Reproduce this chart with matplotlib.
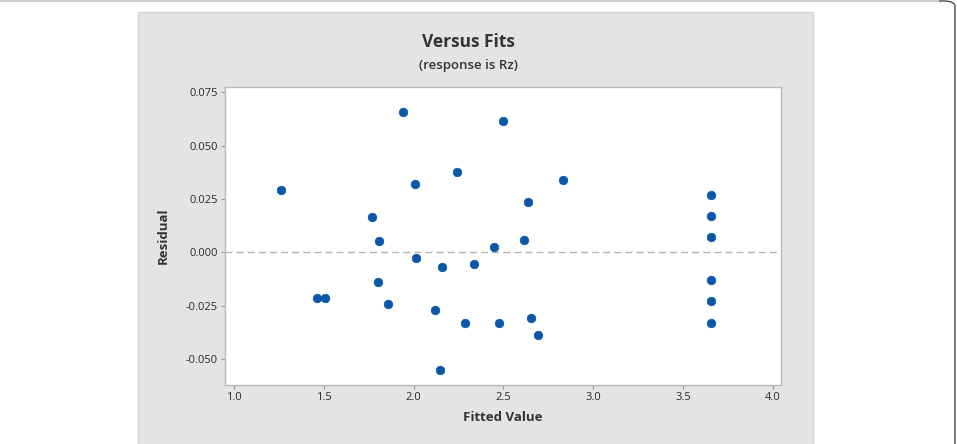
import matplotlib.pyplot as plt
from matplotlib.patches import Rectangle, FancyBboxPatch

plt.rcParams['font.family'] = ['Open Sans', 'DejaVu Sans']

# residuals versus fitted values
fitted = [1.262, 1.464, 1.505, 1.769, 1.804, 1.810, 1.858, 1.943, 2.010, 2.014,
          2.120, 2.148, 2.159, 2.244, 2.285, 2.337, 2.448, 2.476, 2.500, 2.612,
          2.638, 2.651, 2.692, 2.829, 3.656, 3.656, 3.656, 3.656, 3.656, 3.656]
residual = [0.0291, -0.0212, -0.0212, 0.0164, -0.0137, 0.0052, -0.0244, 0.0658, 0.0322, -0.0026,
            -0.0272, -0.0551, -0.0069, 0.0377, -0.0330, -0.0053, 0.0027, -0.0330, 0.0614, 0.0058,
            0.0238, -0.0309, -0.0387, 0.0339, 0.0269, 0.0169, 0.0074, -0.0128, -0.0228, -0.0330]

x_ticks = [1.0, 1.5, 2.0, 2.5, 3.0, 3.5, 4.0]
y_ticks = [-0.050, -0.025, 0.000, 0.025, 0.050, 0.075]

W, H = 957, 444
fig = plt.figure(figsize=(W / 100, H / 100), dpi=100)
fig.patch.set_facecolor('white')

# outer rounded frame (only top and right edges visible)
frame = FancyBboxPatch((-20 / W, -20 / H), (955 + 20) / W, (443 + 20) / H,
                       boxstyle='round,pad=0,rounding_size=0.012',
                       transform=fig.transFigure, facecolor='none',
                       edgecolor='#4a4a4a', linewidth=1.0, zorder=-3)
fig.patches.append(frame)
fig.add_artist(plt.Line2D([0, 938 / W], [1 - 1.0 / H, 1 - 1.0 / H], transform=fig.transFigure,
                          color='#d0d0d0', linewidth=1.5, zorder=-2))

# gray Minitab panel
fig.patches.append(Rectangle((138 / W, -0.05), (813 - 138) / W, (H - 12) / H + 0.05,
                             transform=fig.transFigure, facecolor='#e4e4e4',
                             edgecolor='#d4d4d4', linewidth=1.0, zorder=-1))

ax = fig.add_axes([225 / W, 1 - 385 / H, (781 - 225) / W, (385 - 87) / H])
ax.set_facecolor('white')
ax.scatter(fitted, residual, s=38, color='#0a56a8', edgecolors='#0a56a8',
           linewidths=0.5, marker='o', zorder=3)
ax.axhline(0, color='#b4b4b4', linewidth=1.0, linestyle=(0, (5, 3)), zorder=2)

ax.set_xlim(0.95, 4.045)
ax.set_ylim(-0.0622, 0.0775)
ax.set_xticks(x_ticks)
ax.set_xticklabels([f'{v:.1f}' for v in x_ticks])
ax.set_yticks(y_ticks)
ax.set_yticklabels([f'{v:.3f}' for v in y_ticks])
ax.tick_params(axis='both', length=3, width=0.8, color='#9a9a9a', labelsize=8,
               labelcolor='#2a2a2a', pad=2)
for s in ax.spines.values():
    s.set_color('#b8b8b8')
    s.set_linewidth(1.0)

ax.set_xlabel('Fitted Value', fontsize=9.5, fontweight='bold', color='#333333', labelpad=6)
ax.set_ylabel('Residual', fontsize=9.5, fontweight='bold', color='#333333', labelpad=12)

fig.text(468 / W, 1 - 42 / H, 'Versus Fits', ha='center', va='center', fontsize=12.5,
         fontweight='bold', color='#333333')
fig.text(468 / W, 1 - 65 / H, '(response is Rz)', ha='center', va='center', fontsize=9.5,
         fontweight='semibold', color='#333333')

fig.savefig('out.png', dpi=100, facecolor='white')
